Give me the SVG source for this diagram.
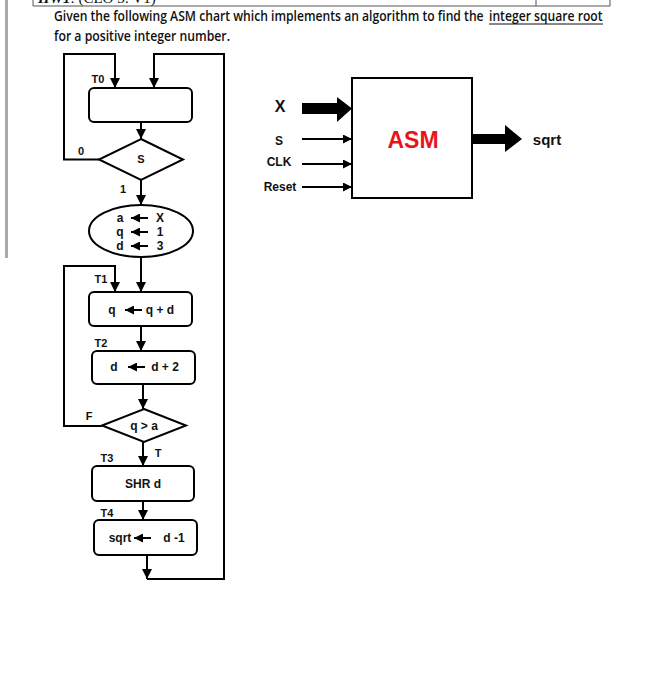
<svg xmlns="http://www.w3.org/2000/svg" width="651" height="700" viewBox="0 0 651 700">
<defs>
<marker id="ah" viewBox="0 0 10 10" refX="10" refY="5" markerWidth="10" markerHeight="11" markerUnits="userSpaceOnUse" orient="auto"><path d="M0,0 L10,5 L0,10 z" fill="#000"/></marker>
<marker id="ahs" viewBox="0 0 10 10" refX="10" refY="5" markerWidth="9" markerHeight="9" markerUnits="userSpaceOnUse" orient="auto"><path d="M0,0 L10,5 L0,10 z" fill="#000"/></marker>
</defs>
<style>
.hdr{font-family:"Open Sans","Liberation Sans",sans-serif;font-weight:600;font-size:13.5px;fill:#111}
.lb{font-family:"Liberation Sans",Arial,sans-serif;font-weight:bold;font-size:11px;fill:#111}
.in{font-family:"Liberation Sans",Arial,sans-serif;font-weight:bold;font-size:12px;fill:#111}
.sh{fill:#fff;stroke:#000;stroke-width:2}
.cn{fill:none;stroke:#000;stroke-width:2;marker-end:url(#ah)}
.ta{stroke:#000;stroke-width:2;marker-end:url(#ahs)}
.io{font-family:"Liberation Sans",Arial,sans-serif;font-weight:bold;fill:#111}
</style>
<rect width="651" height="700" fill="#fff"/>
<rect x="5" y="0" width="3" height="258" fill="#aaa"/>
<g id="header">
<polyline points="33,0 33,6 610,6 610,0" fill="none" stroke="#555" stroke-width="1"/>
<line x1="536" y1="0" x2="536" y2="6" stroke="#555" stroke-width="1"/>
<text x="38" y="3" font-family="Liberation Serif,serif" font-size="15" fill="#111"><tspan font-weight="bold" font-style="italic">HW1</tspan>: (CLO 3: V1)</text>
<g transform="translate(54,21) scale(0.8,1)">
<text class="hdr" x="0" y="0" textLength="537" lengthAdjust="spacingAndGlyphs">Given the following ASM chart which implements an algorithm to find the</text>
</g>
<g transform="translate(489,21) scale(0.8,1)">
<text class="hdr" x="0" y="0" textLength="142" lengthAdjust="spacingAndGlyphs">integer square root</text>
</g>
<line x1="489" y1="24" x2="603" y2="24" stroke="#111" stroke-width="1"/>
<g transform="translate(54,41) scale(0.8,1)">
<text class="hdr" x="0" y="0" textLength="220" lengthAdjust="spacingAndGlyphs">for a positive integer number.</text>
</g>
</g>
<g id="connectors">
<path class="cn" d="M99,159.5 H64 V54 H115 V88"/>
<line class="cn" x1="147" y1="555" x2="147" y2="579"/>
<path class="cn" d="M147,579 H224 V54 H154 V88"/>
<line class="cn" x1="141" y1="122" x2="141" y2="139"/>
<line class="cn" x1="141" y1="180" x2="141" y2="205"/>
<line class="cn" x1="141" y1="257" x2="141" y2="292"/>
<path class="cn" d="M102,426 H64 V266 H115 V292"/>
<line class="cn" x1="141" y1="326" x2="141" y2="351"/>
<line class="cn" x1="143" y1="384" x2="143" y2="409"/>
<line class="cn" x1="143" y1="442" x2="143" y2="466"/>
<line class="cn" x1="143" y1="501" x2="143" y2="520"/>
</g>
<g id="T0">
<rect class="sh" x="89" y="88" width="103" height="34" rx="5"/>
<text class="lb" x="98" y="83" text-anchor="middle">T0</text>
</g>
<g id="S_decision">
<polygon class="sh" points="141,139 183,159.5 141,180 99,159.5"/>
<text class="lb" x="141" y="163" text-anchor="middle">S</text>
<text class="lb" x="81" y="155" text-anchor="middle">0</text>
<text class="lb" x="123" y="193" text-anchor="middle">1</text>
</g>
<g id="init">
<ellipse class="sh" cx="141" cy="231" rx="52" ry="26"/>
<text class="in" x="120" y="222" text-anchor="middle">a</text>
<line class="ta" x1="148" y1="218" x2="131" y2="218"/>
<text class="in" x="160" y="222" text-anchor="middle">X</text>
<text class="in" x="120" y="236" text-anchor="middle">q</text>
<line class="ta" x1="148" y1="232" x2="131" y2="232"/>
<text class="in" x="160" y="236" text-anchor="middle">1</text>
<text class="in" x="120" y="250" text-anchor="middle">d</text>
<line class="ta" x1="148" y1="246" x2="131" y2="246"/>
<text class="in" x="160" y="250" text-anchor="middle">3</text>
</g>
<g id="T1">
<rect class="sh" x="89" y="292" width="103" height="34" rx="5"/>
<text class="lb" x="101" y="283" text-anchor="middle">T1</text>
<text class="in" x="112" y="314" text-anchor="middle">q</text>
<line class="ta" x1="142" y1="310" x2="125" y2="310"/>
<text class="in" x="160" y="314" text-anchor="middle">q + d</text>
</g>
<g id="T2">
<rect class="sh" x="92" y="351" width="103" height="33" rx="5"/>
<text class="lb" x="101" y="347" text-anchor="middle">T2</text>
<text class="in" x="114" y="371" text-anchor="middle">d</text>
<line class="ta" x1="145" y1="367" x2="128" y2="367"/>
<text class="in" x="165" y="371" text-anchor="middle">d + 2</text>
</g>
<g id="q_gt_a">
<polygon class="sh" points="144,409 186,425.5 144,442 102,425.5"/>
<text class="in" x="144" y="430" text-anchor="middle">q &gt; a</text>
<text class="lb" x="89" y="420" text-anchor="middle">F</text>
<text class="lb" x="158" y="457" text-anchor="middle">T</text>
</g>
<g id="T3">
<rect class="sh" x="92" y="466" width="102" height="35" rx="5"/>
<text class="lb" x="107" y="462" text-anchor="middle">T3</text>
<text class="in" x="143" y="488" text-anchor="middle">SHR  d</text>
</g>
<g id="T4">
<rect class="sh" x="94" y="520" width="103" height="35" rx="5"/>
<text class="lb" x="107" y="517" text-anchor="middle">T4</text>
<text class="in" x="120" y="542" text-anchor="middle">sqrt</text>
<line class="ta" x1="151" y1="538" x2="134" y2="538"/>
<text class="in" x="174" y="542" text-anchor="middle">d -1</text>
</g>
<g id="ASM_block">
<rect x="352" y="78" width="120" height="120" fill="#fff" stroke="#000" stroke-width="2"/>
<text class="io" x="413" y="148" font-size="23" style="fill:#e8141b" text-anchor="middle">ASM</text>
</g>
<g id="io_ports">
<text class="io" x="280" y="112" font-size="16" text-anchor="middle">X</text>
<polygon points="302,103 337,103 337,97 352,108.5 337,122 337,114 302,114" fill="#000"/>
<text class="io" x="279" y="145" font-size="12" text-anchor="middle">S</text>
<line class="ta" x1="302" y1="139" x2="352" y2="139"/>
<text class="io" x="279" y="166" font-size="12" text-anchor="middle">CLK</text>
<line class="ta" x1="302" y1="164" x2="352" y2="164"/>
<text class="io" x="280" y="191" font-size="12" text-anchor="middle">Reset</text>
<line class="ta" x1="302" y1="187" x2="352" y2="187"/>
<polygon points="472,134 505,134 505,125 522,139 505,152 505,144 472,144" fill="#000"/>
<text class="io" x="547" y="145" font-size="15" text-anchor="middle">sqrt</text>
</g>
</svg>
